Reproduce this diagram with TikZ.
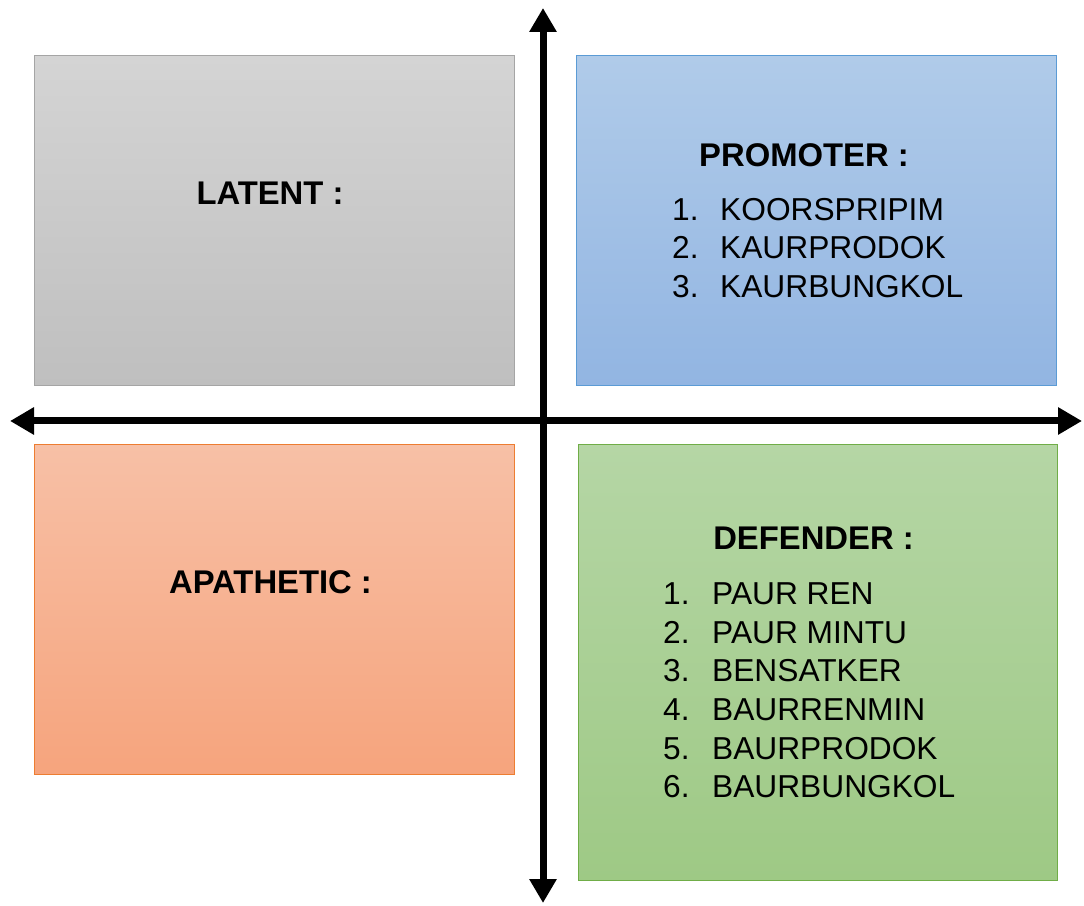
\documentclass[tikz,border=0pt]{standalone}
\usepackage{fontspec}
\setmainfont{Liberation Sans}
\usetikzlibrary{arrows.meta}

\definecolor{grayedge}{HTML}{A5A5A5}
\definecolor{graytop}{HTML}{D4D4D4}
\definecolor{graybot}{HTML}{BFBFBF}
\definecolor{blueedge}{HTML}{5B9BD5}
\definecolor{bluetop}{HTML}{B0CBE9}
\definecolor{bluebot}{HTML}{92B5E2}
\definecolor{orangeedge}{HTML}{ED7D31}
\definecolor{orangetop}{HTML}{F7C0A6}
\definecolor{orangebot}{HTML}{F6A47D}
\definecolor{greenedge}{HTML}{70AD47}
\definecolor{greentop}{HTML}{B5D6A5}
\definecolor{greenbot}{HTML}{9EC985}

\tikzset{
  quad/.style={rectangle, line width=1pt, minimum width=480pt, minimum height=330pt, inner sep=0pt},
  title/.style={font=\fontsize{32.8}{38.6}\selectfont\bfseries, inner sep=0pt},
  items/.style={font=\fontsize{31.7}{38.6}\selectfont, align=left, anchor=west, inner sep=0pt},
  axis/.style={line width=7pt, {Triangle[width=26pt,length=24pt]}-{Triangle[width=26pt,length=24pt]}}
}

\begin{document}
\begin{tikzpicture}[x=1pt,y=1pt]
\useasboundingbox (0,0) rectangle (1084,905);

% quadrant boxes
\node[quad, draw=grayedge, top color=graytop, bottom color=graybot] (latent) at (274,684) {};
\node[quad, draw=blueedge, top color=bluetop, bottom color=bluebot] (promoter) at (816,684) {};
\node[quad, draw=orangeedge, top color=orangetop, bottom color=orangebot] (apathetic) at (274,295) {};
\node[quad, draw=greenedge, top color=greentop, bottom color=greenbot, minimum width=479pt, minimum height=435pt] (defender) at (817.5,242.5) {};

% headings
\node[title] (latentT) at (270,712) {LATENT :};
\node[title] (promoterT) at (804,750) {PROMOTER :};
\node[title] (apatheticT) at (270.5,323) {APATHETIC :};
\node[title] (defenderT) at (813.5,367) {DEFENDER :};

% member lists
\node[items] (promoterL) at (672,657) {%
  \makebox[48pt][l]{1.}KOORSPRIPIM\\
  \makebox[48pt][l]{2.}KAURPRODOK\\
  \makebox[48pt][l]{3.}KAURBUNGKOL};
\node[items] (defenderL) at (663,214.5) {%
  \makebox[49pt][l]{1.}PAUR REN\\
  \makebox[49pt][l]{2.}PAUR MINTU\\
  \makebox[49pt][l]{3.}BENSATKER\\
  \makebox[49pt][l]{4.}BAURRENMIN\\
  \makebox[49pt][l]{5.}BAURPRODOK\\
  \makebox[49pt][l]{6.}BAURBUNGKOL};

% axes
\coordinate (top) at (543,897);
\coordinate (bottom) at (543,2);
\coordinate (left) at (10,484);
\coordinate (right) at (1082,484);
\draw[axis] (bottom) -- (top);
\draw[axis] (left) -- (right);
\end{tikzpicture}
\end{document}
